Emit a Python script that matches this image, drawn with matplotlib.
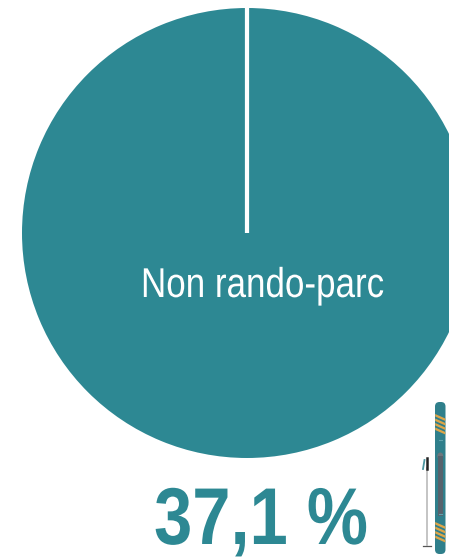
import matplotlib
matplotlib.use("Agg")
import numpy as np
import matplotlib.pyplot as plt
from matplotlib.patches import FancyBboxPatch, Polygon, Rectangle, Ellipse
from matplotlib.patheffects import AbstractPathEffect
from matplotlib.transforms import Affine2D

categories = ["Non rando-parc"]
shares = [100.0]
big_label = "37,1 %"

W, H = 449, 560
TEAL = "#2D8893"


class Squeeze(AbstractPathEffect):
    """Narrow a text horizontally around its centre (pixel x)."""

    def __init__(self, sx, xc):
        super().__init__()
        self.sx, self.xc = sx, xc

    def draw_path(self, renderer, gc, tpath, affine, rgbFace=None):
        squeeze = Affine2D().translate(-self.xc, 0).scale(self.sx, 1).translate(self.xc, 0)
        renderer.draw_path(gc, tpath, affine + squeeze, rgbFace)


fig = plt.figure(figsize=(W / 100, H / 100), dpi=100, facecolor="white")
ax = fig.add_axes([0, 0, 1, 1])
R = 225.0
cx, cy = 247.0, 233.0
wedges, _ = ax.pie(shares, radius=1.0, startangle=90, colors=[TEAL],
                   wedgeprops={"linewidth": 0}, normalize=True)
ax.set_xlim(-cx / R, (W - cx) / R)
ax.set_ylim((cy - H) / R, cy / R)
ax.set_aspect("equal")
ax.axis("off")

w = wedges[0]
t = np.deg2rad(w.theta1)
ax.plot([w.center[0], w.center[0] + w.r * 1.01 * np.cos(t)],
        [w.center[1], w.center[1] + w.r * 1.01 * np.sin(t)],
        color="white", lw=4.2 * 0.72, solid_capstyle="butt", zorder=3, clip_on=False)

px = fig.add_axes([0, 0, 1, 1])
px.set_xlim(0, W); px.set_ylim(H, 0); px.axis("off"); px.patch.set_alpha(0)

xc1 = 262.5
t1 = px.text(xc1, 297, categories[0], color="white", family="Liberation Sans",
             fontsize=30, ha="center", va="baseline")
t1.set_path_effects([Squeeze(0.84, xc1)])
xc2 = 261
t2 = px.text(xc2, 544, big_label, color=TEAL, family="Liberation Sans", weight="bold",
             fontsize=58, ha="center", va="baseline")
t2.set_path_effects([Squeeze(0.853, xc2)])

# ski icon
px.add_patch(FancyBboxPatch((435, 402), 10.5, 152, boxstyle="round,pad=0,rounding_size=4.5",
                            fc="#2F7F8B", ec="none"))
px.add_patch(Ellipse((440.3, 456), 6, 7, fc="#6E767C", ec="none"))
px.add_patch(Rectangle((438, 456), 4.6, 60, fc="#56626C", ec="none"))
for y0 in (418, 422.5, 427, 431.5, 526, 530.5, 535, 539.5):
    px.add_patch(Polygon([(435.2, y0 - 4), (445.3, y0 + 0.5), (445.3, y0 + 3), (435.2, y0 - 1.5)],
                         fc="#DDA548", ec="none"))
for y0 in (440, 514):
    px.plot([438.5, 442], [y0, y0], color="#5FA3AD", lw=0.8)
# pole
px.plot([426.7, 426.7], [468, 545], color="#B4B4B4", lw=1.1)
px.plot([426.7, 426.7], [458, 469], color="#222222", lw=1.8)
px.plot([423, 424.5], [469, 460], color="#4A95A0", lw=1.3)
px.plot([423, 431], [545.5, 545.5], color="#555555", lw=0.9)

fig.savefig("out.png", dpi=100)
